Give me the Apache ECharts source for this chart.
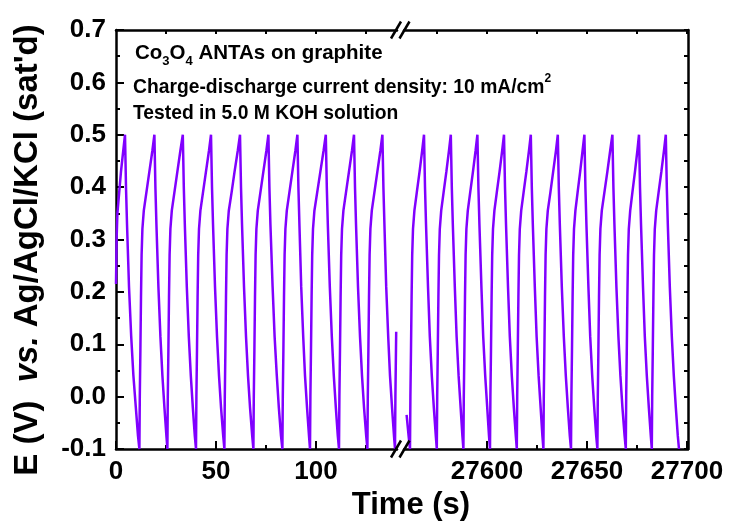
<!DOCTYPE html>
<html>
<head>
<meta charset="utf-8">
<title>Co3O4 ANTAs charge-discharge</title>
<script src="https://cdn.jsdelivr.net/npm/echarts@6/dist/echarts.min.js"></script>
<style>
  html, body { margin: 0; padding: 0; background: #fff; }
  #main { width: 729px; height: 528px; }
</style>
</head>
<body>
<div id="main"></div>
<script>
// ---- data ----
// left piece of the broken time axis (0 .. ~140 s)
var leftRange = [0, 140.5];
var leftMajor = [0, 50, 100];
var leftMinor = [25, 75, 125];
var leftTop = [25, 50, 75, 100, 125];
var leftTime = [
  0, 0.3, 0.7, 2.5, 4.5,
  5.0, 5.5, 6.5, 7.6, 8.7, 9.9, 11.0, 11.7,
  11.9, 12.2, 12.5, 12.8, 13.2, 13.9, 15.2, 16.7, 18.2, 19.2,
  19.7, 20.2, 21.2, 22.2, 23.2, 24.2, 25.2, 25.7,
  25.9, 26.2, 26.5, 26.8, 27.2, 27.9, 29.2, 30.7, 32.2, 33.4,
  33.9, 34.4, 35.4, 36.4, 37.4, 38.4, 39.4, 40.0,
  40.2, 40.5, 40.8, 41.1, 41.5, 42.2, 43.5, 45.0, 46.5, 47.5,
  48.0, 48.5, 49.5, 50.5, 51.5, 52.5, 53.6, 54.2,
  54.4, 54.7, 55.0, 55.3, 55.7, 56.4, 57.8, 59.3, 60.9, 62.0,
  62.5, 63.0, 64.0, 65.0, 66.0, 67.0, 68.1, 68.7,
  68.9, 69.2, 69.5, 69.8, 70.2, 70.9, 72.2, 73.7, 75.2, 76.2,
  76.7, 77.2, 78.3, 79.3, 80.4, 81.4, 82.5, 83.2,
  83.4, 83.7, 84.0, 84.3, 84.7, 85.4, 86.7, 88.2, 89.7, 90.7,
  91.2, 91.7, 92.6, 93.6, 94.5, 95.5, 96.5, 97.0,
  97.2, 97.5, 97.8, 98.1, 98.5, 99.2, 100.6, 102.2, 103.8, 104.9,
  105.4, 105.9, 106.9, 107.9, 108.9, 109.9, 110.9, 111.5,
  111.7, 112.0, 112.3, 112.6, 113.0, 113.7, 115.0, 116.5, 118.0, 119.0,
  119.5, 120.0, 121.0, 122.0, 123.0, 124.0, 125.1, 125.7,
  125.9, 126.2, 126.5, 126.8, 127.2, 127.9, 129.2, 130.7, 132.2, 133.2,
  133.7, 134.2, 135.1, 136.1, 137.0, 138.0, 139.0, 139.5,
  139.7, 140.1
];
var leftPotential = [
  0.215, 0.30, 0.35, 0.43, 0.50,
  0.40, 0.33, 0.21, 0.115, 0.04, -0.02, -0.075, -0.10,
  0.00, 0.09, 0.19, 0.27, 0.32, 0.355, 0.39, 0.43, 0.47, 0.50,
  0.40, 0.33, 0.21, 0.115, 0.04, -0.02, -0.075, -0.10,
  0.00, 0.09, 0.19, 0.27, 0.32, 0.355, 0.39, 0.43, 0.47, 0.50,
  0.40, 0.33, 0.21, 0.115, 0.04, -0.02, -0.075, -0.10,
  0.00, 0.09, 0.19, 0.27, 0.32, 0.355, 0.39, 0.43, 0.47, 0.50,
  0.40, 0.33, 0.21, 0.115, 0.04, -0.02, -0.075, -0.10,
  0.00, 0.09, 0.19, 0.27, 0.32, 0.355, 0.39, 0.43, 0.47, 0.50,
  0.40, 0.33, 0.21, 0.115, 0.04, -0.02, -0.075, -0.10,
  0.00, 0.09, 0.19, 0.27, 0.32, 0.355, 0.39, 0.43, 0.47, 0.50,
  0.40, 0.33, 0.21, 0.115, 0.04, -0.02, -0.075, -0.10,
  0.00, 0.09, 0.19, 0.27, 0.32, 0.355, 0.39, 0.43, 0.47, 0.50,
  0.40, 0.33, 0.21, 0.115, 0.04, -0.02, -0.075, -0.10,
  0.00, 0.09, 0.19, 0.27, 0.32, 0.355, 0.39, 0.43, 0.47, 0.50,
  0.40, 0.33, 0.21, 0.115, 0.04, -0.02, -0.075, -0.10,
  0.00, 0.09, 0.19, 0.27, 0.32, 0.355, 0.39, 0.43, 0.47, 0.50,
  0.40, 0.33, 0.21, 0.115, 0.04, -0.02, -0.075, -0.10,
  0.00, 0.09, 0.19, 0.27, 0.32, 0.355, 0.39, 0.43, 0.47, 0.50,
  0.40, 0.33, 0.21, 0.115, 0.04, -0.02, -0.075, -0.10,
  0.00, 0.124
];

// right piece of the broken time axis (~27558 .. 27700 s)
var rightRange = [27558.5, 27700.5];
var rightMajor = [27600, 27650, 27700];
var rightMinor = [27575, 27625, 27675];
var rightTop = [27575, 27600, 27625, 27650, 27675, 27700];
var rightTime = [
  27559.8, 27560.8, 27561.5,
  27561.7, 27562.0, 27562.3, 27562.6, 27563.0, 27563.7, 27564.9, 27566.3, 27567.6, 27568.5,
  27569.0, 27569.5, 27570.5, 27571.4, 27572.4, 27573.4, 27574.4, 27574.9,
  27575.1, 27575.4, 27575.7, 27576.0, 27576.4, 27577.1, 27578.3, 27579.7, 27581.0, 27581.9,
  27582.4, 27582.9, 27583.9, 27584.8, 27585.8, 27586.8, 27587.7, 27588.2,
  27588.4, 27588.7, 27589.0, 27589.3, 27589.7, 27590.4, 27591.6, 27593.0, 27594.3, 27595.2,
  27595.7, 27596.2, 27597.2, 27598.1, 27599.1, 27600.1, 27601.0, 27601.5,
  27601.7, 27602.0, 27602.3, 27602.6, 27603.0, 27603.7, 27604.9, 27606.3, 27607.6, 27608.5,
  27609.0, 27609.5, 27610.5, 27611.4, 27612.4, 27613.4, 27614.4, 27614.9,
  27615.1, 27615.4, 27615.7, 27616.0, 27616.4, 27617.1, 27618.3, 27619.7, 27621.0, 27621.9,
  27622.4, 27622.9, 27623.9, 27624.8, 27625.8, 27626.8, 27627.7, 27628.2,
  27628.4, 27628.7, 27629.0, 27629.3, 27629.7, 27630.4, 27631.7, 27633.1, 27634.5, 27635.4,
  27635.9, 27636.4, 27637.4, 27638.4, 27639.4, 27640.4, 27641.4, 27642.0,
  27642.2, 27642.5, 27642.8, 27643.1, 27643.5, 27644.2, 27645.3, 27646.6, 27647.8, 27648.7,
  27649.2, 27649.7, 27650.7, 27651.6, 27652.6, 27653.6, 27654.6, 27655.2,
  27655.4, 27655.7, 27656.0, 27656.3, 27656.7, 27657.4, 27658.7, 27660.2, 27661.6, 27662.7,
  27663.2, 27663.7, 27664.7, 27665.7, 27666.7, 27667.7, 27668.8, 27669.4,
  27669.6, 27669.9, 27670.2, 27670.5, 27670.9, 27671.6, 27672.7, 27674.0, 27675.2, 27676.0,
  27676.5, 27677.0, 27678.0, 27678.9, 27679.9, 27680.9, 27681.9, 27682.4,
  27682.6, 27682.9, 27683.2, 27683.5, 27683.9, 27684.6, 27685.8, 27687.2, 27688.5, 27689.4,
  27689.9, 27690.4, 27691.4, 27692.4, 27693.4, 27694.4, 27695.4, 27696.0
];
var rightPotential = [
  -0.035, -0.075, -0.10,
  0.00, 0.09, 0.19, 0.27, 0.32, 0.355, 0.39, 0.43, 0.47, 0.50,
  0.40, 0.33, 0.21, 0.115, 0.04, -0.02, -0.075, -0.10,
  0.00, 0.09, 0.19, 0.27, 0.32, 0.355, 0.39, 0.43, 0.47, 0.50,
  0.40, 0.33, 0.21, 0.115, 0.04, -0.02, -0.075, -0.10,
  0.00, 0.09, 0.19, 0.27, 0.32, 0.355, 0.39, 0.43, 0.47, 0.50,
  0.40, 0.33, 0.21, 0.115, 0.04, -0.02, -0.075, -0.10,
  0.00, 0.09, 0.19, 0.27, 0.32, 0.355, 0.39, 0.43, 0.47, 0.50,
  0.40, 0.33, 0.21, 0.115, 0.04, -0.02, -0.075, -0.10,
  0.00, 0.09, 0.19, 0.27, 0.32, 0.355, 0.39, 0.43, 0.47, 0.50,
  0.40, 0.33, 0.21, 0.115, 0.04, -0.02, -0.075, -0.10,
  0.00, 0.09, 0.19, 0.27, 0.32, 0.355, 0.39, 0.43, 0.47, 0.50,
  0.40, 0.33, 0.21, 0.115, 0.04, -0.02, -0.075, -0.10,
  0.00, 0.09, 0.19, 0.27, 0.32, 0.355, 0.39, 0.43, 0.47, 0.50,
  0.40, 0.33, 0.21, 0.115, 0.04, -0.02, -0.075, -0.10,
  0.00, 0.09, 0.19, 0.27, 0.32, 0.355, 0.39, 0.43, 0.47, 0.50,
  0.40, 0.33, 0.21, 0.115, 0.04, -0.02, -0.075, -0.10,
  0.00, 0.09, 0.19, 0.27, 0.32, 0.355, 0.39, 0.43, 0.47, 0.50,
  0.40, 0.33, 0.21, 0.115, 0.04, -0.02, -0.075, -0.10,
  0.00, 0.09, 0.19, 0.27, 0.32, 0.355, 0.39, 0.43, 0.47, 0.50,
  0.40, 0.33, 0.21, 0.115, 0.04, -0.02, -0.075, -0.10
];

var yRange = [-0.1, 0.7];

// ---- chart ----
var FONT = 'Liberation Sans';
var lineColor = '#8000ff';
var tickStyle = { color: '#000', width: 2 };
var frameStyle = { color: '#000', width: 2.5 };

function zip(a, b) {
  var out = [];
  for (var i = 0; i < a.length; i++) out.push([a[i], b[i]]);
  return out;
}

function xAxes(grid, range, major, minor, top) {
  return [
    { // bottom: line, major ticks, labels
      gridIndex: grid, type: 'value', min: range[0], max: range[1], position: 'bottom',
      axisLine: { show: true, onZero: false, lineStyle: frameStyle },
      axisTick: { show: true, inside: true, length: 8, customValues: major, lineStyle: tickStyle },
      axisLabel: { show: true, customValues: major, formatter: function (v) { return String(v); },
        fontSize: 26, fontWeight: 'bold', fontFamily: FONT, color: '#000', margin: 10 },
      splitLine: { show: false }
    },
    { // bottom minor ticks
      gridIndex: grid, type: 'value', min: range[0], max: range[1], position: 'bottom',
      axisLine: { show: false, onZero: false },
      axisTick: { show: true, inside: true, length: 4, customValues: minor, lineStyle: tickStyle },
      axisLabel: { show: false }, splitLine: { show: false }
    },
    { // top frame
      gridIndex: grid, type: 'value', min: range[0], max: range[1], position: 'top',
      axisLine: { show: true, onZero: false, lineStyle: frameStyle },
      axisTick: { show: true, inside: true, length: 4, customValues: top, lineStyle: tickStyle },
      axisLabel: { show: false }, splitLine: { show: false }
    }
  ];
}

var chart = echarts.init(document.getElementById('main'), null, { renderer: 'canvas' });

// break marks on the frame
var breakMarks = [];
[30, 449].forEach(function (yy) {
  [396, 404.5].forEach(function (xx) {
    breakMarks.push({
      type: 'line', z: 100,
      shape: { x1: xx - 5, y1: yy + 8.5, x2: xx + 5, y2: yy - 8.5 },
      style: { stroke: '#000', lineWidth: 2.5 }
    });
  });
});

var option = {
  backgroundColor: '#fff',
  animation: false,
  grid: [
    { left: 116, top: 30, width: 281, height: 419, outerBoundsMode: 'none' },
    { left: 404, top: 30, width: 284, height: 419, outerBoundsMode: 'none' }
  ],
  xAxis: xAxes(0, leftRange, leftMajor, leftMinor, leftTop)
    .concat(xAxes(1, rightRange, rightMajor, rightMinor, rightTop)),
  yAxis: [
    {
      gridIndex: 0, type: 'value', min: yRange[0], max: yRange[1], interval: 0.1, position: 'left',
      axisLine: { show: true, onZero: false, lineStyle: frameStyle },
      axisTick: { show: true, inside: true, length: 8, lineStyle: tickStyle },
      minorTick: { show: true, splitNumber: 2, length: 4, lineStyle: tickStyle },
      axisLabel: { formatter: function (v) { return v.toFixed(1); },
        fontSize: 26, fontWeight: 'bold', fontFamily: FONT, color: '#000', margin: 10 },
      splitLine: { show: false }, minorSplitLine: { show: false }
    },
    {
      gridIndex: 1, type: 'value', min: yRange[0], max: yRange[1], interval: 0.1, position: 'right',
      axisLine: { show: true, onZero: false, lineStyle: frameStyle },
      axisTick: { show: true, inside: true, length: 4, lineStyle: tickStyle },
      minorTick: { show: true, splitNumber: 2, length: 4, lineStyle: tickStyle },
      axisLabel: { show: false },
      splitLine: { show: false }, minorSplitLine: { show: false }
    }
  ],
  series: [
    {
      type: 'line', xAxisIndex: 0, yAxisIndex: 0, data: zip(leftTime, leftPotential),
      showSymbol: false, symbol: 'none', silent: true,
      lineStyle: { color: lineColor, width: 2.5 }
    },
    {
      type: 'line', xAxisIndex: 3, yAxisIndex: 1, data: zip(rightTime, rightPotential),
      showSymbol: false, symbol: 'none', silent: true,
      lineStyle: { color: lineColor, width: 2.5 }
    }
  ],
  graphic: breakMarks.concat([
    {
      type: 'text', x: 135, y: 53,
      style: {
        text: 'Co{s|3}O{s|4} ANTAs on graphite',
        fill: '#000', fontSize: 20.5, fontWeight: 'bold', fontFamily: FONT,
        lineHeight: 30, align: 'left', verticalAlign: 'middle',
        rich: { s: { fontSize: 13, fontWeight: 'bold', fontFamily: FONT, fill: '#000', lineHeight: 14, verticalAlign: 'bottom' } }
      }
    },
    {
      type: 'text', x: 133, y: 87.5,
      style: {
        text: 'Charge-discharge current density: 10 mA/cm{p|2}',
        fill: '#000', fontSize: 19.3, fontWeight: 'bold', fontFamily: FONT,
        lineHeight: 30, align: 'left', verticalAlign: 'middle',
        rich: { p: { fontSize: 12, fontWeight: 'bold', fontFamily: FONT, fill: '#000', lineHeight: 14, verticalAlign: 'top' } }
      }
    },
    {
      type: 'text', x: 133, y: 113.5,
      style: {
        text: 'Tested in 5.0 M KOH solution',
        fill: '#000', fontSize: 19.3, fontWeight: 'bold', fontFamily: FONT,
        align: 'left', verticalAlign: 'middle'
      }
    },
    {
      type: 'text', x: 411, y: 505,
      style: {
        text: 'Time (s)', fill: '#000', fontSize: 31, fontWeight: 'bold', fontFamily: FONT,
        align: 'center', verticalAlign: 'middle'
      }
    },
    {
      type: 'text', x: 28, y: 250, rotation: Math.PI / 2,
      style: {
        text: 'E (V)  {i|vs.} Ag/AgCl/KCl (sat\'d)', fill: '#000', fontSize: 33, fontWeight: 'bold', fontFamily: FONT,
        align: 'center', verticalAlign: 'middle',
        rich: { i: { fontSize: 33, fontWeight: 'bold', fontStyle: 'italic', fontFamily: FONT, fill: '#000' } }
      }
    }
  ])
};

chart.setOption(option);
</script>
</body>
</html>
